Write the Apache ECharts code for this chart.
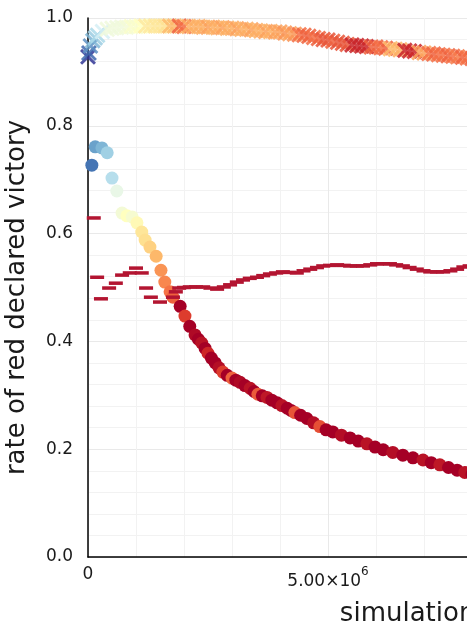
<!DOCTYPE html>
<html>
<head>
<meta charset="utf-8">
<script src="https://cdn.jsdelivr.net/npm/echarts@6/dist/echarts.min.js"></script>
<style>
  html, body { margin: 0; padding: 0; background: #fff; }
  #chart { width: 467px; height: 633px; }
</style>
</head>
<body>
<div id="chart"></div>
<script>
// x values are in millions of simulations
const X_UNIT = 1e6;

// top series, cross markers
const crossX = [0, 0.02, 0.05, 0.1, 0.15, 0.2, 0.3, 0.4, 0.5, 0.6, 0.7, 0.8, 0.9, 1.0,
  1.1, 1.2, 1.3, 1.4, 1.5, 1.6, 1.7, 1.8, 1.9, 2.0, 2.1, 2.2, 2.3, 2.4, 2.5, 2.6, 2.7,
  2.8, 2.9, 3.0, 3.1, 3.2, 3.3, 3.4, 3.5, 3.6, 3.7, 3.8, 3.9, 4.0, 4.1, 4.2, 4.3, 4.4,
  4.5, 4.6, 4.7, 4.8, 4.9, 5.0, 5.1, 5.2, 5.3, 5.4, 5.5, 5.6, 5.7, 5.8, 5.9, 6.0, 6.1,
  6.2, 6.3, 6.4, 6.5, 6.6, 6.7, 6.8, 6.9, 7.0, 7.1, 7.2, 7.3, 7.4, 7.5, 7.6, 7.7, 7.8,
  7.9, 8.0];
const crossY = [0.928, 0.935, 0.948, 0.958, 0.963, 0.968, 0.975, 0.979, 0.981, 0.982,
  0.983, 0.983, 0.984, 0.984, 0.985, 0.985, 0.985, 0.985, 0.985, 0.985, 0.985, 0.985,
  0.985, 0.984, 0.984, 0.984, 0.984, 0.983, 0.983, 0.983, 0.982, 0.982, 0.981, 0.981,
  0.980, 0.979, 0.979, 0.978, 0.977, 0.976, 0.975, 0.975, 0.974, 0.974, 0.972, 0.971,
  0.970, 0.969, 0.968, 0.966, 0.964, 0.962, 0.960, 0.959, 0.957, 0.955, 0.953, 0.951,
  0.950, 0.949, 0.948, 0.947, 0.946, 0.946, 0.945, 0.944, 0.943, 0.942, 0.941, 0.940,
  0.939, 0.938, 0.936, 0.935, 0.934, 0.933, 0.932, 0.931, 0.930, 0.929, 0.928, 0.927,
  0.926, 0.925];
const crossC = [0.0, 0.08, 0.15, 0.22, 0.27, 0.3, 0.38, 0.45, 0.45, 0.45, 0.45, 0.46,
  0.48, 0.48, 0.5, 0.57, 0.57, 0.58, 0.58, 0.6, 0.68, 0.68, 0.82, 0.8, 0.7, 0.7, 0.7,
  0.7, 0.72, 0.7, 0.7, 0.72, 0.7, 0.7, 0.72, 0.7, 0.7, 0.72, 0.7, 0.7, 0.72, 0.7, 0.72,
  0.72, 0.74, 0.72, 0.74, 0.8, 0.82, 0.82, 0.8, 0.82, 0.84, 0.84, 0.82, 0.84, 0.84,
  0.84, 0.93, 0.93, 0.93, 0.92, 0.82, 0.82, 0.8, 0.82, 0.68, 0.68, 0.7, 0.93, 0.93,
  0.92, 0.72, 0.72, 0.8, 0.82, 0.8, 0.8, 0.82, 0.8, 0.78, 0.82, 0.8, 0.82];

// middle series, circle markers
const circleX = [0.08, 0.15, 0.29, 0.40, 0.50, 0.60, 0.71, 0.81, 0.92, 1.02, 1.12, 1.19,
  1.29, 1.42, 1.52, 1.60, 1.71, 1.77, 1.92, 2.02, 2.12, 2.23, 2.30, 2.37, 2.44, 2.50,
  2.57, 2.65, 2.73, 2.81, 2.90, 3.00, 3.08, 3.17, 3.27, 3.38, 3.46, 3.54, 3.63, 3.73,
  3.83, 3.94, 4.04, 4.15, 4.23, 4.31, 4.43, 4.56, 4.70, 4.83, 4.96, 5.10, 5.28, 5.46,
  5.63, 5.81, 5.98, 6.15, 6.35, 6.56, 6.77, 6.98, 7.15, 7.33, 7.51, 7.69, 7.85, 8.0];
const circleY = [0.727, 0.761, 0.759, 0.750, 0.703, 0.679, 0.638, 0.633, 0.631, 0.620,
  0.603, 0.588, 0.575, 0.558, 0.532, 0.510, 0.492, 0.482, 0.465, 0.447, 0.428, 0.412,
  0.404, 0.397, 0.387, 0.378, 0.369, 0.360, 0.351, 0.343, 0.337, 0.332, 0.328, 0.324,
  0.318, 0.313, 0.307, 0.302, 0.299, 0.296, 0.291, 0.286, 0.281, 0.276, 0.272, 0.268,
  0.263, 0.257, 0.249, 0.242, 0.236, 0.232, 0.226, 0.221, 0.215, 0.210, 0.204, 0.199,
  0.194, 0.189, 0.184, 0.180, 0.175, 0.171, 0.166, 0.161, 0.157, 0.153];
const circleC = [0.1, 0.18, 0.22, 0.28, 0.32, 0.43, 0.46, 0.5, 0.47, 0.52, 0.58, 0.6,
  0.63, 0.68, 0.74, 0.76, 0.79, 0.82, 1.0, 0.88, 1.0, 0.98, 1.0, 0.96, 1.0, 0.92, 1.0,
  1.0, 0.97, 0.88, 1.0, 0.82, 1.0, 0.98, 1.0, 0.96, 1.0, 0.83, 1.0, 0.95, 1.0, 1.0,
  0.96, 1.0, 1.0, 0.84, 1.0, 1.0, 0.97, 0.85, 1.0, 1.0, 0.97, 1.0, 1.0, 0.96, 1.0, 1.0,
  0.97, 1.0, 1.0, 0.96, 1.0, 0.95, 1.0, 1.0, 0.96, 1.0];

// bottom series, dash markers
const dashX = [0.12, 0.19, 0.27, 0.44, 0.58, 0.71, 0.87, 1.00, 1.12, 1.21, 1.31, 1.50,
  1.77, 1.83, 1.90, 2.00, 2.12, 2.25, 2.40, 2.55, 2.69, 2.83, 2.96, 3.10, 3.23, 3.37,
  3.52, 3.65, 3.79, 3.92, 4.06, 4.20, 4.35, 4.49, 4.63, 4.77, 4.90, 5.04, 5.19, 5.33,
  5.46, 5.60, 5.73, 5.88, 6.02, 6.15, 6.29, 6.42, 6.56, 6.70, 6.85, 6.99, 7.13, 7.27,
  7.40, 7.55, 7.69, 7.82, 7.95];
const dashY = [0.629, 0.519, 0.479, 0.499, 0.508, 0.523, 0.527, 0.536, 0.527, 0.499,
  0.482, 0.473, 0.482, 0.492, 0.499, 0.500, 0.501, 0.501, 0.501, 0.499, 0.497, 0.501,
  0.505, 0.510, 0.514, 0.517, 0.519, 0.522, 0.525, 0.527, 0.529, 0.528, 0.527, 0.531,
  0.534, 0.537, 0.540, 0.541, 0.542, 0.541, 0.540, 0.540, 0.540, 0.542, 0.544, 0.544,
  0.544, 0.542, 0.540, 0.537, 0.534, 0.531, 0.529, 0.529, 0.529, 0.531, 0.534, 0.538,
  0.540];

const yTicks = [0, 0.2, 0.4, 0.6, 0.8, 1.0];

const colormap = ['#313695', '#4575b4', '#74add1', '#abd9e9', '#e0f3f8', '#ffffbf',
  '#fee090', '#fdae61', '#f46d43', '#d73027', '#a50026'];

const crossPath = 'path://M0,1.3 L1.3,0 L5,3.7 L8.7,0 L10,1.3 L6.3,5 L10,8.7 L8.7,10 L5,6.3 L1.3,10 L0,8.7 L3.7,5 Z';

function zip3(xs, ys, cs) {
  return xs.map((x, i) => [x * X_UNIT, ys[i], cs ? cs[i] : 0]);
}

const font = 'DejaVu Sans';
const xMax = 13.6e6;
const pxPerMillion = 48;

const chart = echarts.init(document.getElementById('chart'), null, { renderer: 'canvas' });
chart.setOption({
  animation: false,
  backgroundColor: '#ffffff',
  textStyle: { fontFamily: font },
  grid: {
    left: 88,
    top: 18,
    height: 539,
    width: pxPerMillion * xMax / X_UNIT,
    outerBoundsMode: 'none',
    containLabel: false,
  },
  visualMap: {
    type: 'continuous',
    show: false,
    min: 0,
    max: 1,
    dimension: 2,
    seriesIndex: [0, 1],
    inRange: { color: colormap },
  },
  xAxis: {
    type: 'value',
    min: 0,
    max: xMax,
    interval: 5e6,
    name: 'simulations',
    nameLocation: 'middle',
    nameGap: 44,
    nameTextStyle: { fontSize: 26, color: '#1a1a1a', fontFamily: font },
    axisLine: { show: true, onZero: false, lineStyle: { color: '#000', width: 1.5 } },
    axisTick: { show: false },
    axisLabel: {
      margin: 9,
      color: '#1a1a1a',
      fontSize: 17,
      fontFamily: font,
      formatter: v => {
        if (v === 0) return '0';
        const exp = Math.floor(Math.log10(v));
        const mant = (v / Math.pow(10, exp)).toFixed(2);
        return '{m|' + mant + '×10}{e|' + exp + '}';
      },
      rich: {
        m: { fontSize: 17, fontFamily: font, color: '#1a1a1a', verticalAlign: 'bottom', lineHeight: 24 },
        e: { fontSize: 12, fontFamily: font, color: '#1a1a1a', verticalAlign: 'top', lineHeight: 24 },
      },
    },
    splitLine: { show: true, lineStyle: { color: '#e9e9e9', width: 1 } },
    minorTick: { show: false, splitNumber: 5 },
    minorSplitLine: { show: true, lineStyle: { color: '#f2f2f2', width: 1 } },
  },
  yAxis: {
    type: 'value',
    min: yTicks[0],
    max: yTicks[yTicks.length - 1],
    interval: 0.2,
    name: 'rate of red declared victory',
    nameLocation: 'middle',
    nameGap: 58,
    nameTextStyle: { fontSize: 26, color: '#1a1a1a', fontFamily: font, padding: [0, 20, 0, 0] },
    axisLine: { show: true, lineStyle: { color: '#000', width: 1.5 } },
    axisTick: { show: false },
    axisLabel: {
      margin: 15,
      color: '#1a1a1a',
      fontSize: 17,
      fontFamily: font,
      formatter: v => v.toFixed(1),
    },
    splitLine: { show: true, lineStyle: { color: '#e9e9e9', width: 1 } },
    minorTick: { show: false, splitNumber: 5 },
    minorSplitLine: { show: true, lineStyle: { color: '#f2f2f2', width: 1 } },
  },
  series: [
    {
      type: 'scatter',
      symbol: crossPath,
      symbolSize: 16,
      itemStyle: { opacity: 0.85 },
      data: zip3(crossX, crossY, crossC),
      silent: true,
    },
    {
      type: 'scatter',
      symbol: 'circle',
      symbolSize: 13,
      itemStyle: { opacity: 1 },
      data: zip3(circleX, circleY, circleC),
      silent: true,
    },
    {
      type: 'scatter',
      symbol: 'rect',
      symbolSize: [14, 3.5],
      itemStyle: { color: '#b31531', opacity: 1 },
      data: zip3(dashX, dashY),
      silent: true,
    },
  ],
});
</script>
</body>
</html>
